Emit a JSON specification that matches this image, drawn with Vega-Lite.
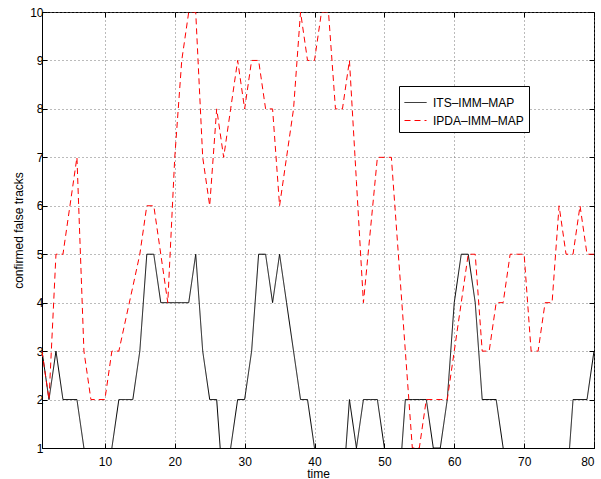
{
  "$schema": "https://vega.github.io/schema/vega-lite/v6.json",
  "width": 552,
  "height": 436,
  "autosize": {"type": "none"},
  "padding": {"left": 42, "top": 12, "right": 7, "bottom": 31},
  "background": "white",
  "config": {
    "font": "Liberation Sans",
    "view": {"stroke": "black", "strokeWidth": 1},
    "axis": {
      "domainColor": "black",
      "tickColor": "black",
      "tickSize": -5,
      "labelColor": "black",
      "titleColor": "black",
      "labelFontSize": 12,
      "titleFontSize": 12,
      "titleFontWeight": "normal",
      "gridColor": "#777777",
      "gridDash": [1, 3],
      "gridWidth": 1
    }
  },
  "data": {
    "values": [
      {"t":1,"v":3,"s":"ITS–IMM–MAP"},{"t":2,"v":2,"s":"ITS–IMM–MAP"},{"t":3,"v":3,"s":"ITS–IMM–MAP"},{"t":4,"v":2,"s":"ITS–IMM–MAP"},{"t":5,"v":2,"s":"ITS–IMM–MAP"},
      {"t":6,"v":2,"s":"ITS–IMM–MAP"},{"t":7,"v":1,"s":"ITS–IMM–MAP"},{"t":8,"v":0,"s":"ITS–IMM–MAP"},{"t":9,"v":0,"s":"ITS–IMM–MAP"},{"t":10,"v":0,"s":"ITS–IMM–MAP"},
      {"t":11,"v":1,"s":"ITS–IMM–MAP"},{"t":12,"v":2,"s":"ITS–IMM–MAP"},{"t":13,"v":2,"s":"ITS–IMM–MAP"},{"t":14,"v":2,"s":"ITS–IMM–MAP"},{"t":15,"v":3,"s":"ITS–IMM–MAP"},
      {"t":16,"v":5,"s":"ITS–IMM–MAP"},{"t":17,"v":5,"s":"ITS–IMM–MAP"},{"t":18,"v":4,"s":"ITS–IMM–MAP"},{"t":19,"v":4,"s":"ITS–IMM–MAP"},{"t":20,"v":4,"s":"ITS–IMM–MAP"},
      {"t":21,"v":4,"s":"ITS–IMM–MAP"},{"t":22,"v":4,"s":"ITS–IMM–MAP"},{"t":23,"v":5,"s":"ITS–IMM–MAP"},{"t":24,"v":3,"s":"ITS–IMM–MAP"},{"t":25,"v":2,"s":"ITS–IMM–MAP"},
      {"t":26,"v":2,"s":"ITS–IMM–MAP"},{"t":27,"v":0,"s":"ITS–IMM–MAP"},{"t":28,"v":1,"s":"ITS–IMM–MAP"},{"t":29,"v":2,"s":"ITS–IMM–MAP"},{"t":30,"v":2,"s":"ITS–IMM–MAP"},
      {"t":31,"v":3,"s":"ITS–IMM–MAP"},{"t":32,"v":5,"s":"ITS–IMM–MAP"},{"t":33,"v":5,"s":"ITS–IMM–MAP"},{"t":34,"v":4,"s":"ITS–IMM–MAP"},{"t":35,"v":5,"s":"ITS–IMM–MAP"},
      {"t":36,"v":4,"s":"ITS–IMM–MAP"},{"t":37,"v":3,"s":"ITS–IMM–MAP"},{"t":38,"v":2,"s":"ITS–IMM–MAP"},{"t":39,"v":2,"s":"ITS–IMM–MAP"},{"t":40,"v":1,"s":"ITS–IMM–MAP"},
      {"t":41,"v":0,"s":"ITS–IMM–MAP"},{"t":42,"v":0,"s":"ITS–IMM–MAP"},{"t":43,"v":0,"s":"ITS–IMM–MAP"},{"t":44,"v":0,"s":"ITS–IMM–MAP"},{"t":45,"v":2,"s":"ITS–IMM–MAP"},
      {"t":46,"v":1,"s":"ITS–IMM–MAP"},{"t":47,"v":2,"s":"ITS–IMM–MAP"},{"t":48,"v":2,"s":"ITS–IMM–MAP"},{"t":49,"v":2,"s":"ITS–IMM–MAP"},{"t":50,"v":1,"s":"ITS–IMM–MAP"},
      {"t":51,"v":0,"s":"ITS–IMM–MAP"},{"t":52,"v":0,"s":"ITS–IMM–MAP"},{"t":53,"v":2,"s":"ITS–IMM–MAP"},{"t":54,"v":2,"s":"ITS–IMM–MAP"},{"t":55,"v":2,"s":"ITS–IMM–MAP"},
      {"t":56,"v":2,"s":"ITS–IMM–MAP"},{"t":57,"v":1,"s":"ITS–IMM–MAP"},{"t":58,"v":1,"s":"ITS–IMM–MAP"},{"t":59,"v":2,"s":"ITS–IMM–MAP"},{"t":60,"v":4,"s":"ITS–IMM–MAP"},
      {"t":61,"v":5,"s":"ITS–IMM–MAP"},{"t":62,"v":5,"s":"ITS–IMM–MAP"},{"t":63,"v":4,"s":"ITS–IMM–MAP"},{"t":64,"v":2,"s":"ITS–IMM–MAP"},{"t":65,"v":2,"s":"ITS–IMM–MAP"},
      {"t":66,"v":2,"s":"ITS–IMM–MAP"},{"t":67,"v":1,"s":"ITS–IMM–MAP"},{"t":68,"v":0,"s":"ITS–IMM–MAP"},{"t":69,"v":0,"s":"ITS–IMM–MAP"},{"t":70,"v":0,"s":"ITS–IMM–MAP"},
      {"t":71,"v":0,"s":"ITS–IMM–MAP"},{"t":72,"v":0,"s":"ITS–IMM–MAP"},{"t":73,"v":0,"s":"ITS–IMM–MAP"},{"t":74,"v":0,"s":"ITS–IMM–MAP"},{"t":75,"v":0,"s":"ITS–IMM–MAP"},
      {"t":76,"v":0,"s":"ITS–IMM–MAP"},{"t":77,"v":2,"s":"ITS–IMM–MAP"},{"t":78,"v":2,"s":"ITS–IMM–MAP"},{"t":79,"v":2,"s":"ITS–IMM–MAP"},{"t":80,"v":3,"s":"ITS–IMM–MAP"},
      {"t":1,"v":3,"s":"IPDA–IMM–MAP"},{"t":2,"v":2,"s":"IPDA–IMM–MAP"},{"t":3,"v":5,"s":"IPDA–IMM–MAP"},{"t":4,"v":5,"s":"IPDA–IMM–MAP"},{"t":5,"v":6,"s":"IPDA–IMM–MAP"},
      {"t":6,"v":7,"s":"IPDA–IMM–MAP"},{"t":7,"v":3,"s":"IPDA–IMM–MAP"},{"t":8,"v":2,"s":"IPDA–IMM–MAP"},{"t":9,"v":2,"s":"IPDA–IMM–MAP"},{"t":10,"v":2,"s":"IPDA–IMM–MAP"},
      {"t":11,"v":3,"s":"IPDA–IMM–MAP"},{"t":12,"v":3,"s":"IPDA–IMM–MAP"},{"t":13,"v":3.67,"s":"IPDA–IMM–MAP"},{"t":14,"v":4.33,"s":"IPDA–IMM–MAP"},{"t":15,"v":5,"s":"IPDA–IMM–MAP"},
      {"t":16,"v":6,"s":"IPDA–IMM–MAP"},{"t":17,"v":6,"s":"IPDA–IMM–MAP"},{"t":18,"v":5,"s":"IPDA–IMM–MAP"},{"t":19,"v":4,"s":"IPDA–IMM–MAP"},{"t":20,"v":7,"s":"IPDA–IMM–MAP"},
      {"t":21,"v":9,"s":"IPDA–IMM–MAP"},{"t":22,"v":10,"s":"IPDA–IMM–MAP"},{"t":23,"v":10,"s":"IPDA–IMM–MAP"},{"t":24,"v":7,"s":"IPDA–IMM–MAP"},{"t":25,"v":6,"s":"IPDA–IMM–MAP"},
      {"t":26,"v":8,"s":"IPDA–IMM–MAP"},{"t":27,"v":7,"s":"IPDA–IMM–MAP"},{"t":28,"v":8,"s":"IPDA–IMM–MAP"},{"t":29,"v":9,"s":"IPDA–IMM–MAP"},{"t":30,"v":8,"s":"IPDA–IMM–MAP"},
      {"t":31,"v":9,"s":"IPDA–IMM–MAP"},{"t":32,"v":9,"s":"IPDA–IMM–MAP"},{"t":33,"v":8,"s":"IPDA–IMM–MAP"},{"t":34,"v":8,"s":"IPDA–IMM–MAP"},{"t":35,"v":6,"s":"IPDA–IMM–MAP"},
      {"t":36,"v":7,"s":"IPDA–IMM–MAP"},{"t":37,"v":8,"s":"IPDA–IMM–MAP"},{"t":38,"v":10,"s":"IPDA–IMM–MAP"},{"t":39,"v":9,"s":"IPDA–IMM–MAP"},{"t":40,"v":9,"s":"IPDA–IMM–MAP"},
      {"t":41,"v":10,"s":"IPDA–IMM–MAP"},{"t":42,"v":10,"s":"IPDA–IMM–MAP"},{"t":43,"v":8,"s":"IPDA–IMM–MAP"},{"t":44,"v":8,"s":"IPDA–IMM–MAP"},{"t":45,"v":9,"s":"IPDA–IMM–MAP"},
      {"t":46,"v":6.5,"s":"IPDA–IMM–MAP"},{"t":47,"v":4,"s":"IPDA–IMM–MAP"},{"t":48,"v":5.5,"s":"IPDA–IMM–MAP"},{"t":49,"v":7,"s":"IPDA–IMM–MAP"},{"t":50,"v":7,"s":"IPDA–IMM–MAP"},
      {"t":51,"v":7,"s":"IPDA–IMM–MAP"},{"t":52,"v":5,"s":"IPDA–IMM–MAP"},{"t":53,"v":3,"s":"IPDA–IMM–MAP"},{"t":54,"v":1,"s":"IPDA–IMM–MAP"},{"t":55,"v":1,"s":"IPDA–IMM–MAP"},
      {"t":56,"v":2,"s":"IPDA–IMM–MAP"},{"t":57,"v":2,"s":"IPDA–IMM–MAP"},{"t":58,"v":2,"s":"IPDA–IMM–MAP"},{"t":59,"v":2,"s":"IPDA–IMM–MAP"},{"t":60,"v":3,"s":"IPDA–IMM–MAP"},
      {"t":61,"v":4,"s":"IPDA–IMM–MAP"},{"t":62,"v":5,"s":"IPDA–IMM–MAP"},{"t":63,"v":5,"s":"IPDA–IMM–MAP"},{"t":64,"v":3,"s":"IPDA–IMM–MAP"},{"t":65,"v":3,"s":"IPDA–IMM–MAP"},
      {"t":66,"v":4,"s":"IPDA–IMM–MAP"},{"t":67,"v":4,"s":"IPDA–IMM–MAP"},{"t":68,"v":5,"s":"IPDA–IMM–MAP"},{"t":69,"v":5,"s":"IPDA–IMM–MAP"},{"t":70,"v":5,"s":"IPDA–IMM–MAP"},
      {"t":71,"v":3,"s":"IPDA–IMM–MAP"},{"t":72,"v":3,"s":"IPDA–IMM–MAP"},{"t":73,"v":4,"s":"IPDA–IMM–MAP"},{"t":74,"v":4,"s":"IPDA–IMM–MAP"},{"t":75,"v":6,"s":"IPDA–IMM–MAP"},
      {"t":76,"v":5,"s":"IPDA–IMM–MAP"},{"t":77,"v":5,"s":"IPDA–IMM–MAP"},{"t":78,"v":6,"s":"IPDA–IMM–MAP"},{"t":79,"v":5,"s":"IPDA–IMM–MAP"},{"t":80,"v":5,"s":"IPDA–IMM–MAP"}
    ]
  },
  "layer": [
    {
      "mark": {"type": "line", "clip": true, "strokeWidth": 1},
      "encoding": {
        "x": {
          "field": "t", "type": "quantitative",
          "scale": {"domain": [1, 80], "nice": false, "zero": false},
          "axis": {"values": [10, 20, 30, 40, 50, 60, 70, 80], "title": "time", "grid": true, "labelPadding": 13, "titlePadding": 1}
        },
        "y": {
          "field": "v", "type": "quantitative",
          "scale": {"domain": [1, 10], "nice": false, "zero": false},
          "axis": {"values": [1, 2, 3, 4, 5, 6, 7, 8, 9, 10], "title": "confirmed false tracks", "grid": true, "labelPadding": 4, "titlePadding": 4}
        },
        "color": {
          "field": "s", "type": "nominal",
          "scale": {"domain": ["ITS–IMM–MAP", "IPDA–IMM–MAP"], "range": ["#000000", "#ff0000"]},
          "legend": {"orient": "none", "legendX": 357, "legendY": 74, "title": null, "symbolType": "stroke", "symbolSize": 484, "symbolStrokeWidth": 1, "labelFontSize": 12, "labelColor": "black", "padding": 5, "strokeColor": "black", "fillColor": "white", "rowPadding": -6, "labelOffset": 6, "cornerRadius": 0}
        },
        "strokeDash": {
          "field": "s", "type": "nominal",
          "scale": {"domain": ["ITS–IMM–MAP", "IPDA–IMM–MAP"], "range": [[1, 0], [6, 4]]},
          "legend": {"orient": "none", "legendX": 357, "legendY": 74, "title": null, "symbolType": "stroke", "symbolSize": 484, "symbolStrokeWidth": 1, "labelFontSize": 12, "labelColor": "black", "padding": 5, "strokeColor": "black", "fillColor": "white", "rowPadding": -6, "labelOffset": 6, "cornerRadius": 0}
        }
      }
    },
    {
      "mark": {"type": "line", "opacity": 0},
      "encoding": {
        "x": {
          "field": "t", "type": "quantitative",
          "axis": {"orient": "top", "values": [10, 20, 30, 40, 50, 60, 70, 80], "labels": false, "title": null, "grid": false, "domain": false}
        },
        "y": {
          "field": "v", "type": "quantitative",
          "axis": {"orient": "right", "values": [1, 2, 3, 4, 5, 6, 7, 8, 9, 10], "labels": false, "title": null, "grid": false, "domain": false}
        },
        "detail": {"field": "s"}
      }
    }
  ],
  "resolve": {"axis": {"x": "independent", "y": "independent"}}
}
